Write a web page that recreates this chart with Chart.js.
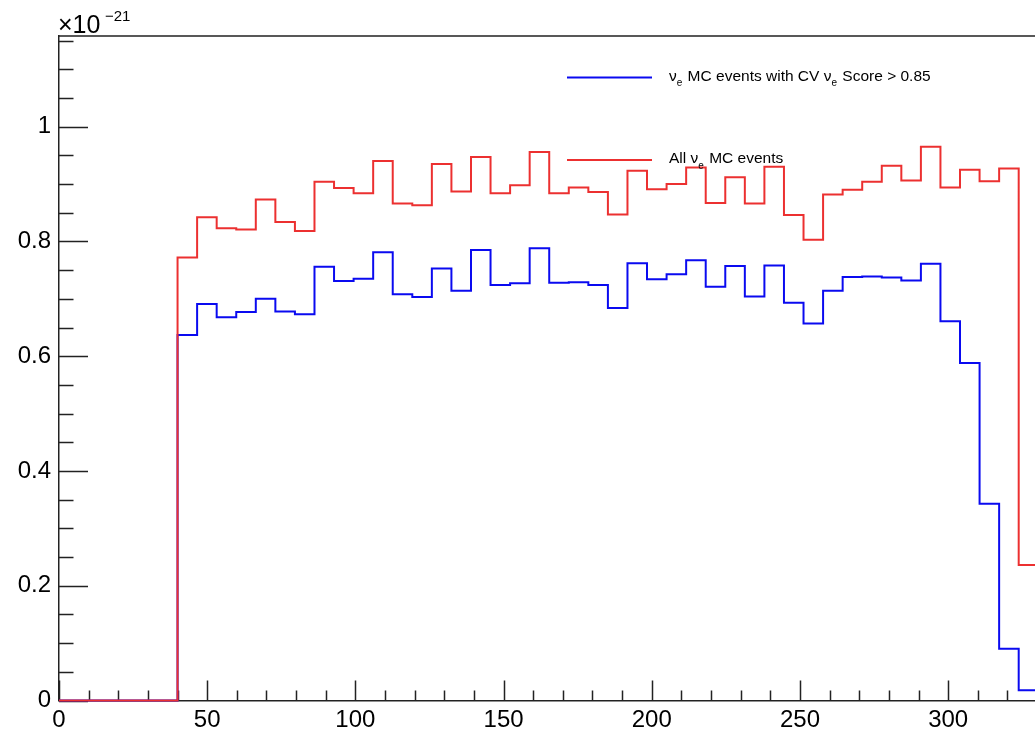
<!DOCTYPE html>
<html><head><meta charset="utf-8">
<script src="https://cdn.jsdelivr.net/npm/chart.js@4.4.1/dist/chart.umd.min.js"></script>
<style>html,body{margin:0;padding:0;background:#fff;overflow:hidden}#wrap{width:1035px;height:733px;position:relative}</style>
</head><body><div id="wrap"><canvas id="c" width="1035" height="733"></canvas></div>
<script>
// ---- data (y in units of 1e-21) ----
const binEdges = [40.0, 46.6, 53.2, 59.8, 66.4, 73.0, 79.6, 86.2, 92.8, 99.4, 106.0, 112.6, 119.2, 125.8, 132.4,
  139.0, 145.6, 152.2, 158.8, 165.4, 172.0, 178.6, 185.2, 191.8, 198.4, 205.0, 211.6, 218.2, 224.8, 231.4,
  238.0, 244.6, 251.2, 257.8, 264.4, 271.0, 277.6, 284.2, 290.8, 297.4, 304.0, 310.6, 317.2, 323.8, 330.4];
const allNueValues = [0.772, 0.842, 0.823, 0.821, 0.873, 0.834, 0.818, 0.904, 0.893, 0.884,
  0.940, 0.866, 0.863, 0.935, 0.887, 0.947, 0.884, 0.898, 0.956, 0.884,
  0.894, 0.886, 0.847, 0.923, 0.891, 0.900, 0.929, 0.867, 0.912, 0.866,
  0.930, 0.846, 0.803, 0.882, 0.890, 0.904, 0.932, 0.906, 0.965, 0.894,
  0.925, 0.905, 0.927, 0.236];
const selectedNueValues = [0.637, 0.691, 0.668, 0.677, 0.700, 0.678, 0.673, 0.756, 0.731, 0.735,
  0.781, 0.708, 0.703, 0.753, 0.714, 0.785, 0.724, 0.727, 0.788, 0.728,
  0.729, 0.724, 0.684, 0.762, 0.734, 0.743, 0.767, 0.721, 0.757, 0.704,
  0.758, 0.693, 0.657, 0.714, 0.738, 0.739, 0.737, 0.732, 0.761, 0.661,
  0.588, 0.343, 0.090, 0.018];
const histStart = 0;
const xTickValues = [0, 50, 100, 150, 200, 250, 300];
const yTickValues = [0, 0.2, 0.4, 0.6, 0.8, 1];
const xRange = [0, 329.3];
const yRange = [0, 1.158];
const legendEntries = [
  { parts: [['ν',0],['e',1],[' MC events with CV ',0],['ν',0],['e',1],[' Score > 0.85',0]], color: 'rgb(10,10,240)' },
  { parts: [['All ',0],['ν',0],['e',1],[' MC events',0]], color: 'rgb(236,48,48)' }
];

const FONT = "'Liberation Sans', Arial, Helvetica, sans-serif";

function histPoints(edges, vals) {
  const pts = [{x: histStart, y: 0}, {x: edges[0], y: 0}];
  for (let i = 0; i < vals.length; i++) {
    pts.push({x: edges[i], y: vals[i]});
    pts.push({x: edges[i+1], y: vals[i]});
  }
  return pts;
}

const framePlugin = {
  id: 'frame',
  beforeDatasetsDraw(chart) {
    const ctx = chart.ctx, xs = chart.scales.x, ys = chart.scales.y, a = chart.chartArea;
    ctx.save();
    ctx.strokeStyle = '#222';
    ctx.lineWidth = 1.5;
    ctx.beginPath();
    ctx.moveTo(a.left, a.top); ctx.lineTo(a.right + 2, a.top);
    for (let k = 0; k <= 23; k++) {
      const v = k * 0.05;
      if (v > yRange[1]) break;
      const py = Math.round(ys.getPixelForValue(v)) + 0.5;
      const len = (k % 4 === 0) ? 29 : 14.5;
      ctx.moveTo(a.left, py); ctx.lineTo(a.left + len, py);
    }
    for (let k = 0; k <= 32; k++) {
      const v = k * 10;
      if (v > xRange[1]) break;
      const px = Math.round(xs.getPixelForValue(v)) + 0.5;
      const len = (k % 5 === 0) ? 20 : 10;
      ctx.moveTo(px, a.bottom); ctx.lineTo(px, a.bottom - len);
    }
    ctx.stroke();
    ctx.restore();
  },
  afterDraw(chart) {
    const ctx = chart.ctx;
    ctx.save();
    ctx.fillStyle = '#000';
    ctx.textBaseline = 'alphabetic';
    ctx.font = '25px ' + FONT;
    ctx.fillText('×10', 58, 33);
    ctx.font = '15px ' + FONT;
    ctx.fillText('−21', 105, 21);
    const lx0 = 567, lx1 = 652, tx = 669;
    const rows = [{ly: 77.5, base: 80.7}, {ly: 160, base: 163.3}];
    legendEntries.forEach((e, i) => {
      ctx.strokeStyle = e.color; ctx.lineWidth = 2;
      ctx.beginPath(); ctx.moveTo(lx0, rows[i].ly); ctx.lineTo(lx1, rows[i].ly); ctx.stroke();
      let x = tx;
      e.parts.forEach(([t, sub]) => {
        ctx.font = (sub ? '10px ' : '15.5px ') + FONT;
        ctx.fillStyle = '#000';
        ctx.fillText(t, x, rows[i].base + (sub ? 5.5 : 0));
        x += ctx.measureText(t).width + (sub ? 1 : 0);
      });
    });
    ctx.restore();
  }
};

new Chart(document.getElementById('c'), {
  type: 'line',
  data: {
    datasets: [
      { label: 'All νe MC events', data: histPoints(binEdges, allNueValues), borderColor: 'rgb(236,48,48)',
        borderWidth: 2, pointRadius: 0, fill: false, tension: 0, order: 0, borderJoinStyle: 'miter',
        clip: {left: 3, top: 3, right: 0, bottom: 3} },
      { label: 'νe MC events with CV νe Score > 0.85', data: histPoints(binEdges, selectedNueValues), borderColor: 'rgb(10,10,240)',
        borderWidth: 2, pointRadius: 0, fill: false, tension: 0, order: 1, borderJoinStyle: 'miter',
        clip: {left: 3, top: 3, right: 0, bottom: 3} }
    ]
  },
  options: {
    responsive: false, animation: false, devicePixelRatio: 1,
    layout: { padding: { top: 36, right: 0, bottom: 0, left: 0 }, autoPadding: false },
    plugins: { legend: { display: false }, tooltip: { enabled: false }, title: { display: false } },
    scales: {
      x: {
        type: 'linear', min: xRange[0], max: xRange[1],
        grid: { display: false, drawTicks: false },
        border: { display: true, color: '#222', width: 1.5 },
        ticks: { font: { size: 24, family: FONT }, color: '#000', padding: 5, maxRotation: 0, autoSkip: false,
          callback: v => String(v) },
        afterBuildTicks: s => { s.ticks = xTickValues.map(v => ({ value: v })); },
        afterFit: s => { s.height = 733 - 700.5; }
      },
      y: {
        type: 'linear', min: yRange[0], max: yRange[1],
        grid: { display: false, drawTicks: false },
        border: { display: true, color: '#222', width: 1.5 },
        ticks: { font: { size: 24, family: FONT }, color: '#000', padding: 8, autoSkip: false,
          callback: v => String(v) },
        afterBuildTicks: s => { s.ticks = yTickValues.map(v => ({ value: v })); },
        afterFit: s => { s.width = 59; }
      }
    }
  },
  plugins: [framePlugin]
});
</script>
</body></html>
